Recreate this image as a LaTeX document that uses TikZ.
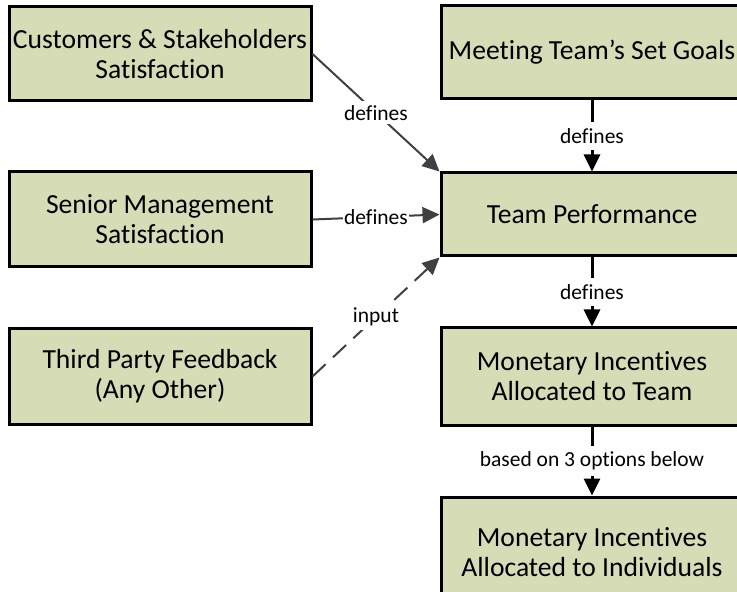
\documentclass[tikz,border=0pt]{standalone}
\usepackage{fontspec}
\setmainfont{Carlito}[Ligatures=NoCommon]
\usetikzlibrary{arrows.meta}

\definecolor{boxgreen}{RGB}{214,220,181}
\definecolor{linkgray}{RGB}{64,64,64}

\begin{document}
\begin{tikzpicture}[x=0.5pt,y=-0.5pt,
  box/.style={draw=black, line width=1.5pt, fill=boxgreen, minimum width=151pt,
    align=center, inner sep=0pt, font=\fontsize{13.8}{15}\selectfont},
  flow/.style={draw=black, line width=1.5pt, -{Triangle[length=8.5pt,width=8pt]}},
  feed/.style={draw=linkgray, line width=1pt, -{Triangle[length=8.5pt,width=8pt]}},
  lbl/.style={fill=white, inner sep=2pt, font=\fontsize{10.75}{12}\selectfont}]

  \useasboundingbox (0,0) rectangle (737,592);
  \clip (0,0) rectangle (737,592);

  %left column
  \node[box, minimum height=47pt]   (cust)   at (160,54)    {Customers \& Stakeholders\\Satisfaction};
  \node[box, minimum height=47.5pt] (senior) at (160,219.5) {Senior Management\\Satisfaction};
  \node[box, minimum height=47.5pt] (third)  at (160,376.5) {Third Party Feedback\\(Any Other)};

  %right column
  \node[box, minimum height=46.5pt] (goals)   at (592,52.5)  {Meeting Team’s Set Goals};
  \node[box, minimum height=41.5pt] (perf)    at (592,214.5) {Team Performance};
  \node[box, minimum height=48.5pt] (teaminc) at (592,376.5) {Monetary Incentives\\Allocated to Team};
  \node[box, minimum height=55pt]   (indinc)  at (592,552)   {Monetary Incentives\\Allocated to Individuals};

  %inputs into team performance
  \draw[feed] (cust.east) -- node[lbl] {defines} (perf.north west);
  \draw[feed] (senior.east) -- node[lbl, inner sep=0.5pt] {defines} (perf.west);
  \draw[feed, dash pattern=on 9pt off 5pt] (third.east) -- node[lbl] {input} (perf.south west);

  %main chain
  \draw[flow] (goals) -- node[lbl, inner sep=3pt] {defines} (perf);
  \draw[flow] (perf) -- node[lbl, inner sep=3pt] {defines} (teaminc);
  \draw[flow] (teaminc) -- node[lbl, inner sep=3pt] {based on 3 options below} (indinc);
\end{tikzpicture}
\end{document}
